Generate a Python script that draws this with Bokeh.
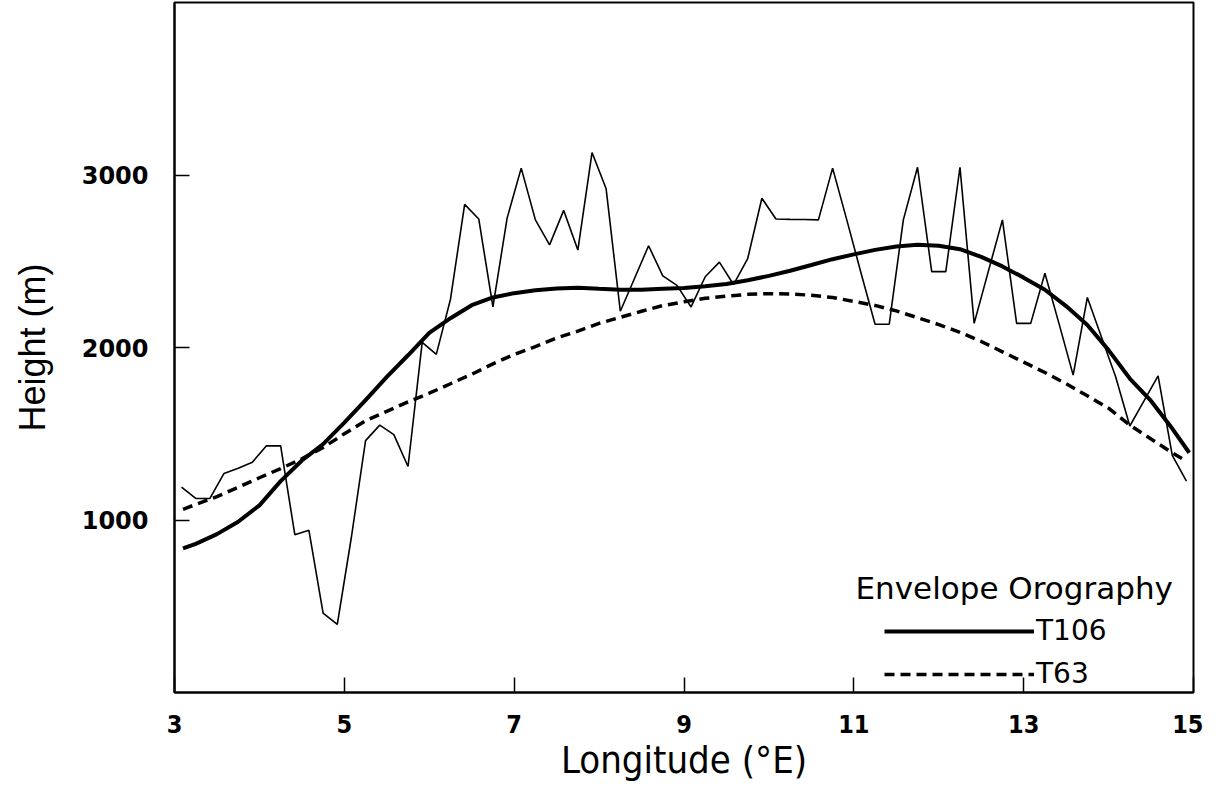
from bokeh.plotting import figure
from bokeh.models import Range1d, FixedTicker, Legend, LegendItem, Label
from bokeh.embed import file_html
from bokeh.resources import INLINE

# Observed (mean) orography along the section, 1/6 degree grid
lon_obs = [3.083, 3.25, 3.417, 3.583, 3.75, 3.917, 4.083, 4.25, 4.417, 4.583, 4.75, 4.917,
           5.083, 5.25, 5.417, 5.583, 5.75, 5.917, 6.083, 6.25, 6.417, 6.583, 6.75, 6.917,
           7.083, 7.25, 7.417, 7.583, 7.75, 7.917, 8.083, 8.25, 8.417, 8.583, 8.75, 8.917,
           9.083, 9.25, 9.417, 9.583, 9.75, 9.917, 10.083, 10.25, 10.417, 10.583, 10.75, 10.917,
           11.083, 11.25, 11.417, 11.583, 11.75, 11.917, 12.083, 12.25, 12.417, 12.583, 12.75, 12.917,
           13.083, 13.25, 13.417, 13.583, 13.75, 13.917, 14.083, 14.25, 14.417, 14.583, 14.75, 14.917]
h_obs = [1190, 1125, 1125, 1270, 1300, 1335, 1430, 1430, 915, 940, 460, 395,
         900, 1460, 1550, 1495, 1310, 2030, 1960, 2280, 2830, 2745, 2235, 2750,
         3040, 2740, 2595, 2795, 2565, 3130, 2920, 2210, 2400, 2590, 2415, 2360,
         2235, 2410, 2495, 2365, 2515, 2865, 2745, 2743, 2742, 2740, 3040, 2740,
         2435, 2135, 2135, 2740, 3045, 2440, 2440, 3045, 2140, 2440, 2740, 2140,
         2140, 2430, 2137, 1840, 2290, 2060, 1830, 1545, 1690, 1835, 1375, 1225]

# Envelope orography T106
lon_t106 = [3.1, 3.25, 3.5, 3.75, 4.0, 4.25, 4.5, 4.75, 5.0, 5.25, 5.5, 5.75, 6.0, 6.25, 6.5,
            6.75, 7.0, 7.25, 7.5, 7.75, 8.0, 8.25, 8.5, 8.75, 9.0, 9.25, 9.5, 9.75, 10.0, 10.25,
            10.5, 10.75, 11.0, 11.25, 11.5, 11.75, 12.0, 12.25, 12.5, 12.75, 13.0, 13.25, 13.5,
            13.75, 14.0, 14.25, 14.5, 14.75, 14.95]
h_t106 = [835, 862, 918, 990, 1085, 1225, 1345, 1440, 1565, 1695, 1830, 1955, 2085, 2170, 2245,
          2290, 2315, 2332, 2342, 2346, 2340, 2335, 2335, 2340, 2345, 2355, 2368, 2390, 2415, 2445,
          2478, 2512, 2540, 2566, 2586, 2595, 2590, 2570, 2525, 2470, 2405, 2335, 2240,
          2130, 1985, 1820, 1690, 1530, 1390]

# Envelope orography T63
lon_t63 = [3.1, 3.25, 3.5, 3.75, 4.0, 4.25, 4.5, 4.75, 5.0, 5.25, 5.5, 5.75, 6.0, 6.25, 6.5,
           6.75, 7.0, 7.25, 7.5, 7.75, 8.0, 8.25, 8.5, 8.75, 9.0, 9.25, 9.5, 9.75, 10.0, 10.25,
           10.5, 10.75, 11.0, 11.25, 11.5, 11.75, 12.0, 12.25, 12.5, 12.75, 13.0, 13.25, 13.5,
           13.75, 14.0, 14.25, 14.5, 14.75, 14.9]
h_t63 = [1062, 1090, 1135, 1190, 1245, 1298, 1355, 1420, 1500, 1575, 1630, 1685, 1735, 1790, 1845,
         1905, 1960, 2005, 2055, 2095, 2140, 2175, 2210, 2243, 2265, 2285, 2298, 2308, 2312, 2310,
         2303, 2290, 2267, 2244, 2212, 2173, 2133, 2088, 2035, 1975, 1915, 1855, 1790,
         1720, 1648, 1550, 1470, 1390, 1345]

x_ticks = [3, 5, 7, 9, 11, 13, 15]
y_ticks = [1000, 2000, 3000]

p = figure(width=1203, height=789, output_backend="svg", toolbar_location=None,
           x_range=Range1d(3, 15), y_range=Range1d(0, 4000),
           min_border_left=174, min_border_right=10, min_border_top=2, min_border_bottom=97,
           background_fill_color="white", border_fill_color="white")
p.xgrid.visible = False
p.ygrid.visible = False
p.outline_line_color = "black"
p.outline_line_width = 2
p.outline_line_alpha = 1.0

for ax in (p.xaxis[0], p.yaxis[0]):
    ax.major_tick_in = 15
    ax.major_tick_out = 0
    ax.minor_tick_in = 0
    ax.minor_tick_out = 0
    ax.major_tick_line_width = 1.5
    ax.major_tick_line_color = "black"
    ax.axis_line_width = 2
    ax.axis_line_color = "black"
    ax.major_label_text_color = "black"
    ax.axis_label_text_color = "black"
    ax.axis_label_text_font_style = "normal"

p.xaxis.ticker = FixedTicker(ticks=x_ticks)
p.yaxis.ticker = FixedTicker(ticks=y_ticks)

p.yaxis.major_label_text_font = "DejaVu Sans"
p.yaxis.major_label_text_font_style = "bold"
p.yaxis.major_label_text_font_size = "24px"
p.yaxis.major_label_standoff = 26

p.xaxis.major_label_text_font = "DejaVu Sans Condensed, Liberation Sans"
p.xaxis.major_label_text_font_style = "bold"
p.xaxis.major_label_text_font_size = "25px"
p.xaxis.major_label_standoff = 22

p.yaxis.axis_label = "Height (m)"
p.yaxis.axis_label_text_font = "Liberation Sans"
p.yaxis.axis_label_text_font_size = "36px"
p.yaxis.axis_label_standoff = 26

p.xaxis.axis_label = "Longitude (°E)"
p.xaxis.axis_label_text_font = "DejaVu Sans Condensed, Liberation Sans"
p.xaxis.axis_label_text_font_size = "38px"
p.xaxis.axis_label_standoff = 2

p.line(lon_obs, h_obs, line_color="black", line_width=1.6)
r106 = p.line(lon_t106, h_t106, line_color="black", line_width=4)
r63 = p.line(lon_t63, h_t63, line_color="black", line_width=3.5, line_dash="10 6")

legend = Legend(items=[LegendItem(label="T106", renderers=[r106]),
                       LegendItem(label="T63", renderers=[r63])],
                location=(710, 2), glyph_width=150, glyph_height=28, label_height=28,
                spacing=10, padding=0, margin=0, label_standoff=2,
                border_line_color=None, background_fill_alpha=0,
                label_text_font="DejaVu Sans", label_text_font_size="28px",
                label_text_color="black")
p.add_layout(legend)

p.add_layout(Label(x=11.02, y=604, text="Envelope Orography", text_baseline="middle",
                   text_font="DejaVu Sans", text_font_size="31px", text_color="black"))

open("out.html", "w").write(file_html(p, INLINE))
